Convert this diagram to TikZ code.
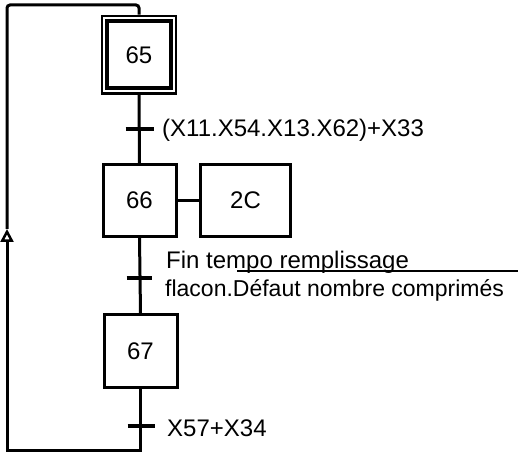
\documentclass[tikz,border=0pt]{standalone}
\usepackage{fontspec}
\setmainfont{Liberation Sans}
\usetikzlibrary{arrows.meta}
\begin{document}
\begin{tikzpicture}[x=1pt,y=-1pt,
  stepbox/.style={draw,line width=3pt,minimum width=73pt,minimum height=73pt,inner sep=0pt,font=\fontsize{24}{28}\selectfont},
  actbox/.style={draw,line width=3pt,minimum width=90pt,minimum height=72pt,inner sep=0pt,font=\fontsize{24}{28}\selectfont},
  link/.style={line width=3pt},
  tbar/.style={line width=3.5pt},
  tlabel/.style={inner sep=0pt,font=\fontsize{24}{28}\selectfont}]
\useasboundingbox (0,0) rectangle (523,454);
% steps
\node[stepbox,line width=2.5pt,minimum width=74pt,minimum height=77.5pt] (s65) at (139,54.75) {65};
\draw[line width=4pt] ([shift={(6.5pt,-6.5pt)}]s65.north west) rectangle ([shift={(-6.5pt,7pt)}]s65.south east);
\node[stepbox,minimum height=72pt] (s66) at (139.5,200.5) {66};
\node[actbox] (a66) at (245.5,200.5) {2C};
\node[stepbox] (s67) at (140.5,351) {67};
% transitions
\coordinate (t1) at (139.5,129);
\coordinate (t2) at (139.5,278);
\coordinate (t3) at (140.5,426);
\draw[link] (s65.south) -- (s66.north);
\draw[link] (s66.south) -- (s67.north);
\draw[link] (s66.east) -- (a66.west);
\draw[tbar] ([xshift=-14pt]t1) -- ([xshift=14pt]t1);
\draw[tbar] ([xshift=-13pt]t2) -- ([xshift=12pt]t2);
\draw[tbar] ([xshift=-13pt]t3) -- ([xshift=14pt]t3);
% labels
\node[tlabel,anchor=base west] (l1) at (162,137) {(X11.X54.X13.X62)+X33};
\node[tlabel,anchor=base west] (l2a) at (166,269) {Fin tempo remplissage};
\node[tlabel,anchor=base west,font=\fontsize{23}{28}\selectfont] (l2b) at (165,297) {flacon.Défaut nombre comprimés};
\node[tlabel,anchor=base west] (l3) at (167,437) {X57+X34};
\coordinate (u1) at (237,271);
\coordinate (u2) at (518,271);
\draw[line width=2pt] (u1) -- (u2);
% loop back
\coordinate (br) at (140.5,451);
\coordinate (bl) at (7,451);
\coordinate (arr) at (7,229);
\coordinate (tl) at (7,5);
\coordinate (tr) at (139,5);
\draw[link,-{Triangle[open,length=13pt 0,width=13pt 0,line width=2.5pt]}] (s67.south) -- (br) -- (bl) -- (arr);
\draw[link,rounded corners=3pt] (arr) -- (tl) -- (tr) -- (s65.north);
\end{tikzpicture}
\end{document}
